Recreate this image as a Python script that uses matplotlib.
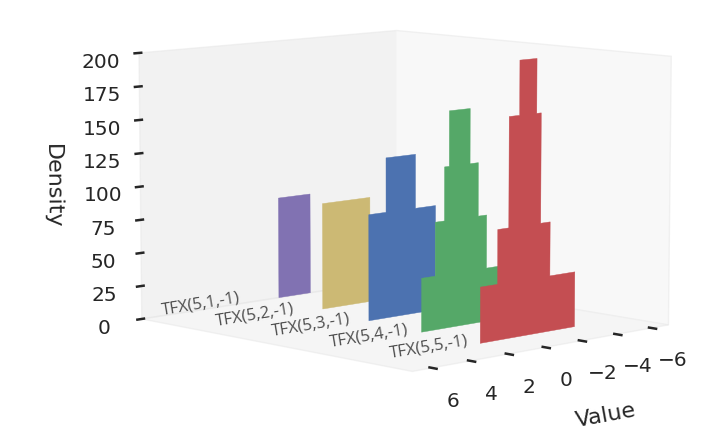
import matplotlib
matplotlib.use('Agg')
import matplotlib.pyplot as plt
from matplotlib.collections import PolyCollection
from mpl_toolkits.mplot3d import proj3d

# categories (one polygon per category, placed along y)
labels = ['TFX(5,1,-1)', 'TFX(5,2,-1)', 'TFX(5,3,-1)', 'TFX(5,4,-1)', 'TFX(5,5,-1)']
ypos = [1, 2, 3, 4, 5]
colors = ['#8172B2', '#CCB974', '#4C72B0', '#55A868', '#C44E52']

# step edges along Value and the density of each step
edges = [
    [-0.3, -2.05],
    [0.27, -2.35],
    [0.81, -0.13, -1.75, -2.87],
    [1.1, 0.36, -0.14, -0.4, -1.54, -2.0, -2.47, -3.3],
    [1.17, 0.24, -0.36, -0.93, -1.87, -2.12, -2.65, -4.06],
]
heights = [
    [78],
    [81],
    [80, 121, 80],
    [40, 80, 120, 161, 120, 80, 40],
    [41, 81, 162, 202, 162, 81, 41],
]

plt.rcParams['font.family'] = ['DejaVu Sans']
plt.rcParams['xtick.major.width'] = 1.8
plt.rcParams['ytick.major.width'] = 1.8
plt.rcParams['xtick.color'] = '.15'
plt.rcParams['ytick.color'] = '.15'
plt.rcParams['text.color'] = '.15'
plt.rcParams['axes.labelcolor'] = '.15'

verts = []
for e, h in zip(edges, heights):
    v = [(e[0], 0)]
    for i in range(len(h)):
        v.append((e[i], h[i]))
        v.append((e[i + 1], h[i]))
    v.append((e[-1], 0))
    verts.append(v)

fig = plt.figure(figsize=(7.07, 4.28), dpi=100)
ax = fig.add_axes([0.063, 0.045, 1, 1], projection='3d')
ax.set_box_aspect((3.64, 4, 2.75), zoom=1.35)
ax.set_proj_type('persp', focal_length=1.5)

poly = PolyCollection(verts, facecolors=colors, edgecolors=colors, linewidths=0.3)
ax.add_collection3d(poly, zs=ypos, zdir='y')

ax.set_xlim(-7, 7)
ax.set_ylim(1, 5.7)
ax.set_zlim(0, 200)
ax.view_init(elev=7.8, azim=46)
ax.grid(False)

ax.set_xticks([-6, -4, -2, 0, 2, 4, 6])
ax.set_zticks(range(0, 201, 25))
ax.set_yticks([])
ax.tick_params(axis='x', labelsize=14.5)
ax.tick_params(axis='z', labelsize=14.5)

# category names lie on the floor, just inside the front edge, along Value
M = ax.get_proj()
for y, lab in zip(ypos, labels):
    px, py, _ = proj3d.proj_transform(3.9, y, 4, M)
    ax.text2D(px, py, lab, transform=ax.transData, fontsize=12, color='.3',
              family=['Open Sans', 'DejaVu Sans'], rotation=9.5,
              ha='center', va='center')

for axis in (ax.xaxis, ax.yaxis, ax.zaxis):
    axis.line.set_color((1, 1, 1, 0))
    axis.pane.set_edgecolor((0.9, 0.9, 0.9, 0.6))

ax.set_xlabel('Value', fontsize=16, labelpad=12)
ax.set_zlabel('Density', fontsize=16, labelpad=6)

fig.savefig('out.png', dpi=100)
